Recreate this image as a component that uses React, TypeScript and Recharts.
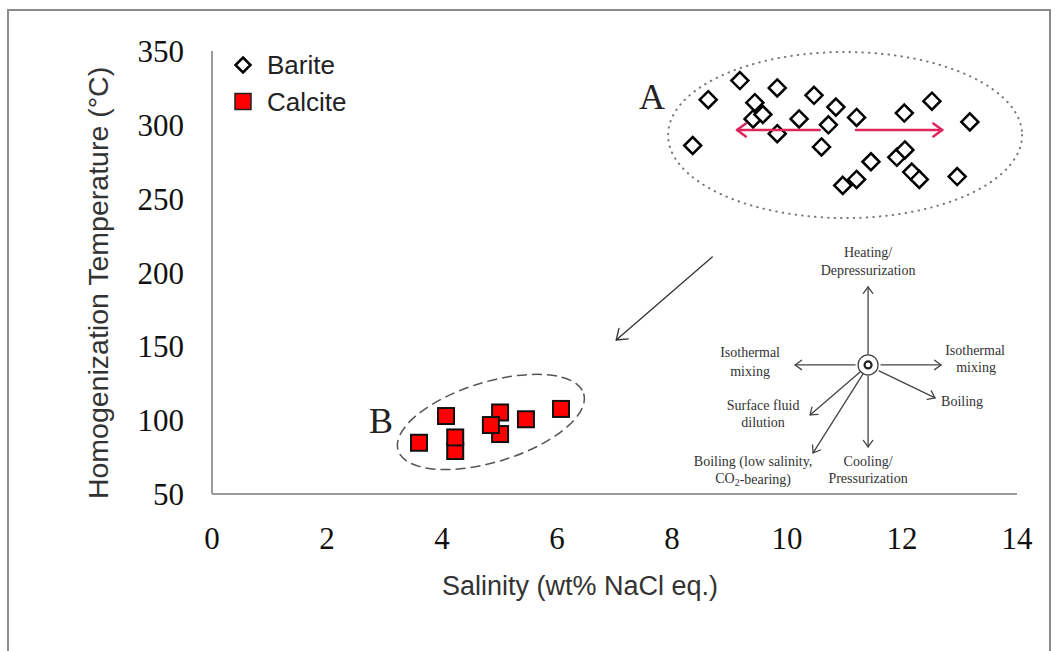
import React from 'react';
import { ScatterChart, Scatter, XAxis, YAxis } from 'recharts';

// values
const salinityTicks = [0, 2, 4, 6, 8, 10, 12, 14];
const temperatureTicks = [50, 100, 150, 200, 250, 300, 350];

const bariteSalinity = [8.63, 9.18, 8.36, 9.44, 9.41, 9.58, 9.83, 9.83, 10.21, 10.47, 10.72, 10.85, 10.6, 11.21, 10.97, 11.21, 11.46, 12.04, 12.52, 11.91, 12.05, 12.17, 12.3, 12.96, 13.18];
const bariteTemperature = [317, 330, 286, 315, 304, 307, 325, 294, 304, 320, 300, 312, 285, 305, 259, 263, 275, 308, 316, 278, 283, 268, 263, 265, 302];

const calciteSalinity = [3.6, 4.07, 4.23, 4.23, 5.01, 5.01, 4.85, 5.46, 6.07];
const calciteTemperature = [84.7, 102.8, 79.1, 88.3, 90.6, 105.2, 96.7, 100.6, 107.6];

const X_DOMAIN: [number, number] = [0, 14];
const Y_DOMAIN: [number, number] = [50, 350];

const W = 1058;
const H = 651;
const margin = { top: 51, right: 41, bottom: 97, left: 112 };
const Y_AXIS_W = 100;
const X_AXIS_H = 60;
const plot = {
  left: margin.left + Y_AXIS_W,
  top: margin.top,
  width: W - margin.left - Y_AXIS_W - margin.right,
  height: H - margin.top - margin.bottom - X_AXIS_H,
};
const px = (s: number) => plot.left + ((s - X_DOMAIN[0]) / (X_DOMAIN[1] - X_DOMAIN[0])) * plot.width;
const py = (t: number) => plot.top + ((Y_DOMAIN[1] - t) / (Y_DOMAIN[1] - Y_DOMAIN[0])) * plot.height;

const bariteData = bariteSalinity.map((x, i) => ({ x, y: bariteTemperature[i] }));
const calciteData = calciteSalinity.map((x, i) => ({ x, y: calciteTemperature[i] }));

const SERIF = '"Liberation Serif", "Times New Roman", serif';
const SANS = '"Liberation Sans", Arial, sans-serif';

const Diamond = (props: any) => {
  const { cx, cy } = props;
  const r = 8.5;
  return (
    <polygon
      points={`${cx},${cy - r} ${cx + r},${cy} ${cx},${cy + r} ${cx - r},${cy}`}
      fill="#fff"
      stroke="#000"
      strokeWidth={2.5}
      strokeLinejoin="miter"
    />
  );
};

const Square = (props: any) => {
  const { cx, cy } = props;
  const s = 16;
  return <rect x={cx - s / 2} y={cy - s / 2} width={s} height={s} fill="#ff0000" stroke="#111" strokeWidth={2} />;
};

function Arrow({ x1, y1, x2, y2, color, width, head }: { x1: number; y1: number; x2: number; y2: number; color: string; width: number; head: number }) {
  const a = Math.atan2(y2 - y1, x2 - x1);
  const spread = Math.PI / 5;
  const hx1 = x2 - head * Math.cos(a - spread);
  const hy1 = y2 - head * Math.sin(a - spread);
  const hx2 = x2 - head * Math.cos(a + spread);
  const hy2 = y2 - head * Math.sin(a + spread);
  return (
    <g stroke={color} strokeWidth={width} fill="none" strokeLinecap="round" strokeLinejoin="round">
      <line x1={x1} y1={y1} x2={x2} y2={y2} />
      <polyline points={`${hx1},${hy1} ${x2},${y2} ${hx2},${hy2}`} />
    </g>
  );
}

// schematic inset: arrows relative to the centre point (pixels)
const insetCenter = { s: 11.41, t: 137.4 };
const insetArrows = [
  [0, -11, 0, -78],
  [-13, 0, -73, 0],
  [13, 0, 73, 0],
  [11, 6, 67, 33],
  [-8, 7, -58, 50],
  [-5, 9, -55, 88],
  [0, 11, 0, 82],
];
const insetLabels: { dx: number; dy: number; text: string; anchor?: string }[] = [
  { dx: 0, dy: -112, text: 'Heating/' },
  { dx: 0, dy: -94, text: 'Depressurization' },
  { dx: -118, dy: -12, text: 'Isothermal' },
  { dx: -118, dy: 7, text: 'mixing' },
  { dx: 107, dy: -14, text: 'Isothermal' },
  { dx: 108, dy: 3, text: 'mixing' },
  { dx: 73, dy: 37, text: 'Boiling', anchor: 'start' },
  { dx: -105, dy: 41, text: 'Surface fluid' },
  { dx: -105, dy: 58, text: 'dilution' },
  { dx: -115, dy: 97, text: 'Boiling (low salinity,' },
  { dx: 0, dy: 97, text: 'Cooling/' },
  { dx: 0, dy: 114, text: 'Pressurization' },
];

function Overlay() {
  const cx = px(insetCenter.s);
  const cy = py(insetCenter.t);
  const red = '#e0245e';
  const ay = py(296.5);
  return (
    <svg width={W} height={H} style={{ position: 'absolute', left: 0, top: 0, pointerEvents: 'none' }}>
      {/* group A */}
      <ellipse cx={px(11.01)} cy={py(293.1)} rx={177} ry={83} fill="none" stroke="#777" strokeWidth={2} strokeDasharray="0.5 6" strokeLinecap="round" />
      <text x={px(7.65)} y={py(318.8)} fontFamily={SERIF} fontSize={36} fill="#222" textAnchor="middle" dominantBaseline="central">A</text>
      <Arrow x1={px(10.57)} y1={ay} x2={px(9.13)} y2={ay} color={red} width={2.5} head={11} />
      <Arrow x1={px(11.2)} y1={ay} x2={px(12.7)} y2={ay} color={red} width={2.5} head={11} />
      {/* group B */}
      <ellipse
        cx={px(4.85)}
        cy={py(98.8)}
        rx={97}
        ry={40}
        transform={`rotate(-17 ${px(4.85)} ${py(98.8)})`}
        fill="none"
        stroke="#555"
        strokeWidth={1.5}
        strokeDasharray="10 5"
      />
      <text x={px(2.94)} y={py(99.1)} fontFamily={SERIF} fontSize={36} fill="#222" textAnchor="middle" dominantBaseline="central">B</text>
      <Arrow x1={px(8.7)} y1={py(210.5)} x2={px(7.03)} y2={py(154.3)} color="#333" width={1.3} head={12} />
      {/* evolution schematic */}
      <circle cx={cx} cy={cy} r={10} fill="#fff" stroke="#444" strokeWidth={1.3} />
      <circle cx={cx} cy={cy} r={3.5} fill="none" stroke="#222" strokeWidth={2.2} />
      {insetArrows.map(([a, b, c, d], i) => (
        <Arrow key={i} x1={cx + a} y1={cy + b} x2={cx + c} y2={cy + d} color="#444" width={1.3} head={8} />
      ))}
      {insetLabels.map((l, i) => (
        <text key={i} x={cx + l.dx} y={cy + l.dy} fontFamily={SERIF} fontSize={14} fill="#333" textAnchor={l.anchor || 'middle'} dominantBaseline="central">
          {l.text}
        </text>
      ))}
      <text x={cx - 115} y={cy + 114} fontFamily={SERIF} fontSize={14} fill="#333" textAnchor="middle" dominantBaseline="central">
        CO<tspan fontSize={10} dy={3}>2</tspan>
        <tspan dy={-3}>-bearing)</tspan>
      </text>
      {/* axis titles */}
      <text x={98} y={283} transform="rotate(-90 98 283)" fontFamily={SANS} fontSize={28.5} fill="#333" textAnchor="middle" dominantBaseline="central">
        Homogenization Temperature (°C)
      </text>
      <text x={580} y={586} fontFamily={SANS} fontSize={27} fill="#333" textAnchor="middle" dominantBaseline="central">
        Salinity (wt% NaCl eq.)
      </text>
      {/* legend */}
      <polygon points="243,57.5 250.5,65 243,72.5 235.5,65" fill="#fff" stroke="#000" strokeWidth={2.5} />
      <text x={267} y={65} fontFamily={SANS} fontSize={26} fill="#222" dominantBaseline="central">Barite</text>
      <rect x={235} y={93.5} width={16} height={16} fill="#ff0000" stroke="#222" strokeWidth={1.5} />
      <text x={267} y={101.5} fontFamily={SANS} fontSize={26} fill="#222" dominantBaseline="central">Calcite</text>
    </svg>
  );
}

export default function App() {
  return (
    <div style={{ position: 'relative', width: W, height: H, overflow: 'hidden', background: '#fff' }}>
      <style>{'body{margin:0}'}</style>
      <div style={{ position: 'absolute', left: 7, top: 9, width: 1040, height: 700, border: '2px solid #8c8c8c' }} />
      <div style={{ position: 'absolute', left: 0, top: 0 }}>
        <ScatterChart width={W} height={H} margin={margin}>
          <XAxis
            type="number"
            dataKey="x"
            domain={X_DOMAIN}
            ticks={salinityTicks}
            allowDataOverflow
            height={X_AXIS_H}
            tickLine={false}
            tickSize={0}
            tickMargin={33}
            axisLine={{ stroke: '#9a9a9a', strokeWidth: 2 }}
            tick={{ fontFamily: SERIF, fontSize: 31, fill: '#111' }}
          />
          <YAxis
            type="number"
            dataKey="y"
            domain={Y_DOMAIN}
            ticks={temperatureTicks}
            allowDataOverflow
            width={Y_AXIS_W}
            tickLine={false}
            tickSize={0}
            tickMargin={28}
            axisLine={{ stroke: '#9a9a9a', strokeWidth: 2 }}
            tick={{ fontFamily: SERIF, fontSize: 31, fill: '#111' }}
          />
          <Scatter name="Calcite" data={calciteData} shape={<Square />} isAnimationActive={false} />
          <Scatter name="Barite" data={bariteData} shape={<Diamond />} isAnimationActive={false} />
        </ScatterChart>
      </div>
      <Overlay />
    </div>
  );
}
